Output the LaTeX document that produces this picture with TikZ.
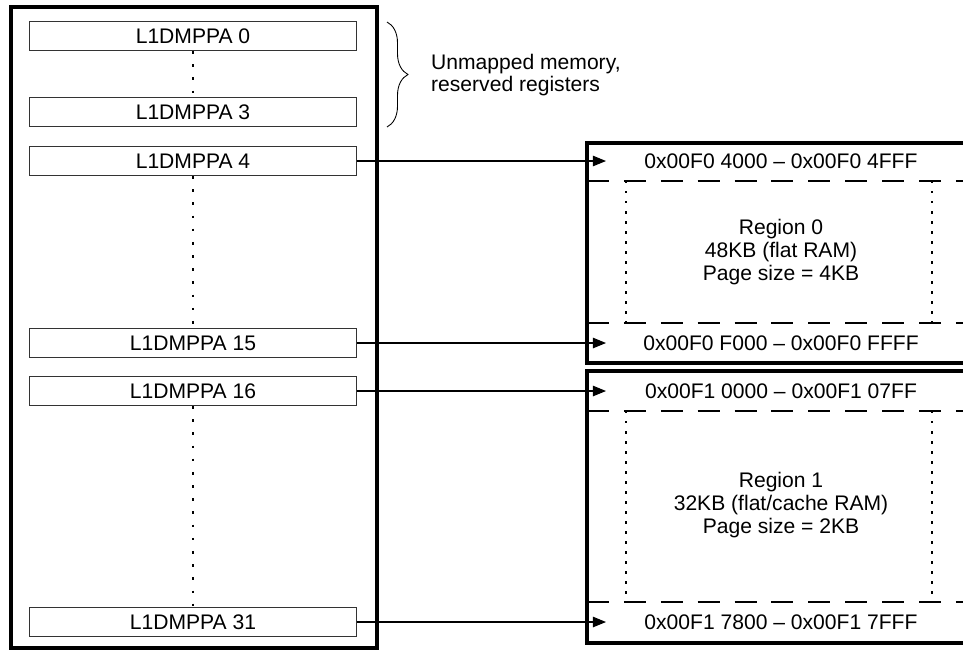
\documentclass[tikz,border=0pt]{standalone}
\usepackage{fontspec}
\setmainfont{Liberation Sans}
\usetikzlibrary{positioning,arrows.meta,decorations.pathreplacing}

\begin{document}
\begin{tikzpicture}[x=0.02cm, y=-0.02cm,
  font=\fontsize{12}{13}\selectfont,
  reg/.style={draw=black!80, line width=0.6pt, minimum width=6.54cm, minimum height=0.58cm, inner sep=0pt},
  frame/.style={line width=2pt},
  arrow/.style={-{Triangle[length=7.5pt,width=6pt]}, line width=0.6pt},
  dots/.style={line width=1.6pt, dash pattern=on 1.5pt off 6pt},
  vdots/.style={line width=1.5pt, dash pattern=on 1.4pt off 4.3pt},
  dashes/.style={line width=0.7pt, dash pattern=on 12.5pt off 8.5pt}]

\clip (0,0) rectangle (963,650);

%lijevi stupac registara
\draw[frame] (11,7) rectangle (377,648);
\node[reg] (p0) at (193,36) {L1DMPPA 0};
\node[reg] (p3) at (193,112) {L1DMPPA 3};
\node[reg] (p4) at (193,161) {L1DMPPA 4};
\node[reg] (p15) at (193,343) {L1DMPPA 15};
\node[reg] (p16) at (193,391) {L1DMPPA 16};
\node[reg] (p31) at (193,622) {L1DMPPA 31};

%tockice izmedu registara
\draw[dots] (p0) -- (p3);
\draw[dots] (p4) -- (p15);
\draw[dots] (p16) -- (p31);

%vitica i napomena
\draw[decorate, decoration={brace, amplitude=0.42cm}, line width=0.5pt] (387,22) -- (387,127);
\node[align=left, anchor=west] (note) at (425,75) {Unmapped memory,\\reserved registers};

%regija 0
\draw[frame] (587,143) rectangle (980,363);
\node (a0) at (781,161) {0x00F0 4000 -- 0x00F0 4FFF};
\node (b0) at (781,343) {0x00F0 F000 -- 0x00F0 FFFF};
\draw[dashes] (587,181) -- (963,181);
\draw[dashes] (587,323) -- (963,323);
\draw[vdots] (626,181) -- (626,323);
\draw[vdots] (932,181) -- (932,323);
\node[align=center] (r0) at (781,252) {Region 0\\48KB (flat RAM)\\Page size = 4KB};

%regija 1
\draw[frame] (587,371) rectangle (980,643);
\node (a1) at (781,391) {0x00F1 0000 -- 0x00F1 07FF};
\node (b1) at (781,622) {0x00F1 7800 -- 0x00F1 7FFF};
\draw[dashes] (587,411) -- (963,411);
\draw[dashes] (587,602) -- (963,602);
\draw[vdots] (626,411) -- (626,602);
\draw[vdots] (932,411) -- (932,602);
\node[align=center] (r1) at (781,505) {Region 1\\32KB (flat/cache RAM)\\Page size = 2KB};

%strelice od registara prema adresama
\coordinate (tip) at (606,0);
\draw[arrow] (p4) -- (p4 -| tip);
\draw[arrow] (p15) -- (p15 -| tip);
\draw[arrow] (p16) -- (p16 -| tip);
\draw[arrow] (p31) -- (p31 -| tip);

\end{tikzpicture}
\end{document}
